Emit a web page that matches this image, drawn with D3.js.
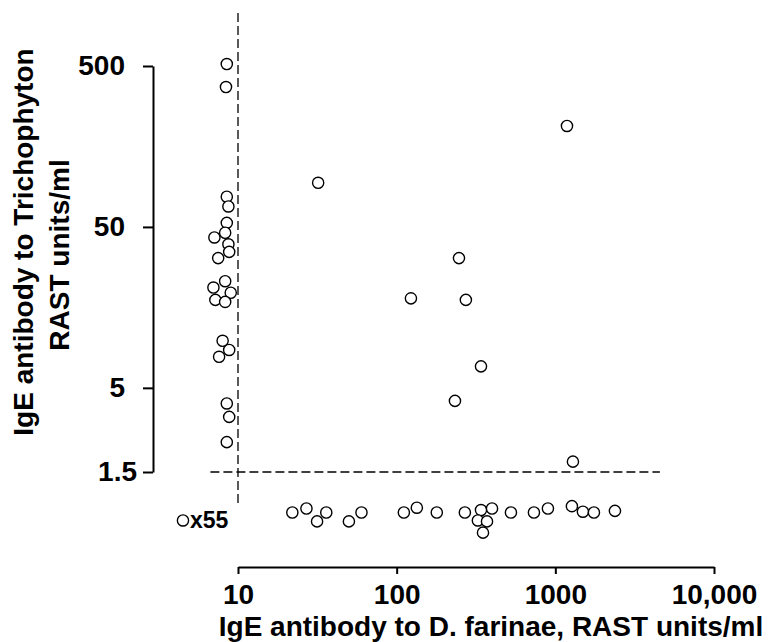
<!DOCTYPE html>
<html>
<head>
<meta charset="utf-8">
<script src="https://cdn.jsdelivr.net/npm/d3@7"></script>
<style>
  body { margin: 0; background: #fff; }
  text { font-family: "Liberation Sans", Arial, Helvetica, sans-serif; font-weight: bold; fill: #000; }
</style>
</head>
<body>
<script>
// axis ticks
var ticksX = [10, 100, 1000, 10000];
var tickLabelsX = ["10", "100", "1000", "10,000"];
var ticksY = [1.5, 5, 50, 500];
var tickLabelsY = ["1.5", "5", "50", "500"];

// patients with Trichophyton IgE >= 1.5 RAST units/ml
var farinaeHigh = [8.5, 8.4, 8.5, 8.7, 8.5, 8.3, 7.1, 8.7, 8.8, 7.5, 8.3, 7.0, 9.0, 7.2, 8.3,
                   8.0, 8.8, 7.6, 8.5, 8.8, 8.5, 32, 247, 123, 273, 340, 233, 1184, 1291];
var trichoHigh  = [514, 370, 77, 67, 53, 46, 43, 39, 35, 32, 23, 21, 19.5, 17.6, 17.1,
                   9.8, 8.6, 7.8, 4.0, 3.3, 2.3, 94, 32, 18, 17.6, 6.8, 4.15, 212, 1.74];

// patients with Trichophyton IgE < 1.5 (plotted along the bottom)
var farinaeLow = [22, 27, 31.5, 36, 50, 60, 111, 134, 179, 269, 340, 399, 325, 371, 350,
                  525, 733, 898, 1272, 1492, 1751, 2375];
var trichoLow  = [0.84, 0.89, 0.74, 0.84, 0.74, 0.84, 0.84, 0.90, 0.84, 0.84, 0.87, 0.89, 0.75, 0.74, 0.63,
                  0.84, 0.84, 0.89, 0.92, 0.85, 0.84, 0.86];

// cut-off lines and the "x55" note
var cutX = 10, cutY = 1.5;
var legendCount = 55;

var svgContainer = d3.select("body").append("svg")
                                    .attr("width", 772)
                                    .attr("height", 642);

var x = d3.scaleLog().domain([10, 10000]).range([238, 714]);
var y = d3.scaleLog().domain([1.5, 500]).range([472, 66]);

// dashed cut-off lines
svgContainer.append("line")
            .attr("x1", x(cutX)).attr("x2", x(cutX))
            .attr("y1", y(1067)).attr("y2", y(0.94))
            .attr("stroke", "black")
            .attr("stroke-width", 1.3)
            .attr("stroke-dasharray", "9,4");

svgContainer.append("line")
            .attr("x1", x(6.7)).attr("x2", x(4560))
            .attr("y1", y(cutY)).attr("y2", y(cutY))
            .attr("stroke", "black")
            .attr("stroke-width", 1.3)
            .attr("stroke-dasharray", "9,4");

// y axis
var yAxis = svgContainer.append("g")
                        .attr("transform", "translate(153,0)")
                        .call(d3.axisLeft(y)
                                .tickValues(ticksY)
                                .tickFormat(function (d, i) { return tickLabelsY[i]; })
                                .tickSize(10)
                                .tickSizeOuter(0)
                                .tickPadding(18));
yAxis.select(".domain").attr("stroke-width", 2);
yAxis.selectAll(".tick line").attr("stroke-width", 2);
yAxis.selectAll(".tick text")
     .attr("font-size", 28)
     .attr("dx", function (d) { return d === 1.5 ? 12 : 0; });

// x axis
var xAxis = svgContainer.append("g")
                        .attr("transform", "translate(0,567)")
                        .call(d3.axisBottom(x)
                                .tickValues(ticksX)
                                .tickFormat(function (d, i) { return tickLabelsX[i]; })
                                .tickSize(7)
                                .tickSizeOuter(0)
                                .tickPadding(10));
xAxis.select(".domain").attr("stroke-width", 2);
xAxis.selectAll(".tick line").attr("stroke-width", 2);
xAxis.selectAll(".tick text").attr("font-size", 28);

// points
var high = farinaeHigh.map(function (d, i) { return [d, trichoHigh[i]]; });
var low = farinaeLow.map(function (d, i) { return [d, trichoLow[i]]; });

svgContainer.selectAll("circle.pt")
            .data(high.concat(low))
            .enter()
            .append("circle")
            .attr("class", "pt")
            .attr("cx", function (d) { return x(d[0]); })
            .attr("cy", function (d) { return y(d[1]); })
            .attr("r", 5.6)
            .attr("fill", "white")
            .attr("stroke", "black")
            .attr("stroke-width", 1.4);

// "o x55" note
svgContainer.append("circle")
            .attr("cx", x(4.5))
            .attr("cy", y(0.75))
            .attr("r", 5.6)
            .attr("fill", "white")
            .attr("stroke", "black")
            .attr("stroke-width", 1.4);
svgContainer.append("text")
            .attr("x", x(4.5) + 7)
            .attr("y", y(0.75) + 8)
            .attr("font-size", 23)
            .text("x" + legendCount);

// axis titles
svgContainer.append("text")
            .attr("x", 491)
            .attr("y", 636)
            .attr("text-anchor", "middle")
            .attr("font-size", 28)
            .text("IgE antibody to D. farinae, RAST units/ml");

svgContainer.append("text")
            .attr("transform", "translate(33,242) rotate(-90)")
            .attr("text-anchor", "middle")
            .attr("font-size", 28)
            .text("IgE antibody to Trichophyton");

svgContainer.append("text")
            .attr("transform", "translate(69,255) rotate(-90)")
            .attr("text-anchor", "middle")
            .attr("font-size", 28)
            .text("RAST units/ml");
</script>
</body>
</html>
